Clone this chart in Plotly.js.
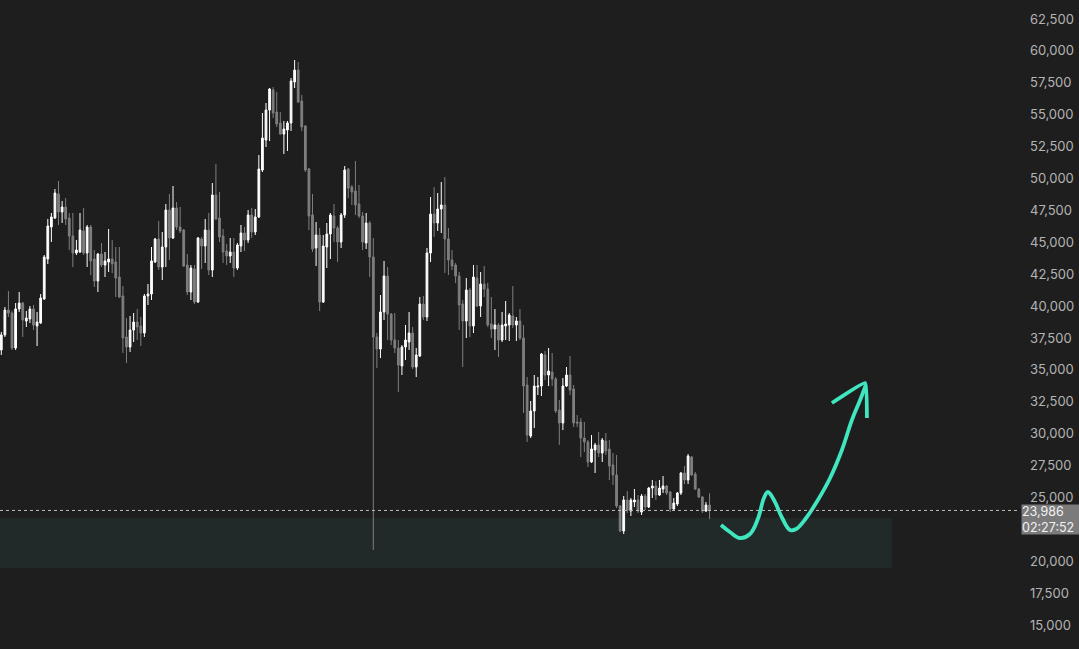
<!DOCTYPE html>
<html>
<head>
<meta charset="utf-8">
<script src="https://cdn.plot.ly/plotly-3.0.1.min.js"></script>
<style>
html,body{margin:0;padding:0;background:#1e1e1e;overflow:hidden;}
#chart{width:1079px;height:649px;}
</style>
</head>
<body>
<div id="chart"></div>
<script>
// Candle OHLC values (one per period, oldest first)
const opens = [
36560,37740,39690,39460,36720,39770,40240,38830,38990,39770,38440,38680,40560,43690,46200,46900,48785,47370,47766,46900,
45494,44160,44240,45886,44161,46199,43691,41967,44083,43221,43457,43691,43457,42280,40792,37578,36795,38127,38754,38440,
37892,40792,40948,43457,45259,43064,44632,47531,45337,47688,46199,45964,43221,41105,42907,40321,45259,44710,45964,42829,
48707,46905,45494,44318,43926,44240,42986,44710,45729,45180,47139,45807,46983,50666,53017,55368,56936,55211,54350,53488,
53801,54350,57563,58503,56073,54114,50744,47139,44553,45572,40321,44632,45651,47061,46121,45023,47139,50744,49334,49020,
48002,47061,44945,46513,43848,37578,36638,39537,42359,39381,37343,36717,35306,36795,37186,37892,35227,36090,40165,39146,
44161,47218,46513,47609,47923,45259,43613,43221,42359,40165,38832,41262,38440,42202,40008,41732,41340,38597,38205,38519,
37343,38440,38519,39224,38519,38832,37500,33817,29820,31779,33660,33738,36168,34600,34835,34286,31857,30839,33738,34600,
33503,30917,30917,29663,29350,27782,28722,29115,28488,29428,28801,27547,26763,24334,22374,24804,23942,24647,24804,23863,
25117,24255,25744,25901,25195,25666,25901,25431,24098,24490,25352,26920,26371,28174,26842,25666,25039,23942,24412
];
const highs = [
37970,39930,41184,39600,40243,41105,40320,39616,40008,40086,39537,40948,44005,46826,47296,49177,49804,48237,48472,47296,
47296,45180,47296,47688,46356,46356,44397,44161,44945,44240,46042,45180,44632,44632,41575,39068,39224,39459,39773,39146,
40948,41732,44632,45337,46669,45807,48002,48785,49412,48158,47766,46042,44083,43221,43221,45416,45416,46826,47296,49647,
51136,48942,46042,44867,45337,45337,44945,46356,46199,47531,47688,47609,51842,55133,55917,57092,57171,56779,55211,54506,
54506,57876,59287,59130,56544,54193,50823,48785,46591,46121,45572,46513,47296,48002,46277,47296,50980,50823,49490,51371,
49490,47374,47296,46669,45337,37892,40870,43535,43064,39459,39459,37343,36951,38519,39537,38362,36717,40713,40792,44553,
48550,49334,48864,49726,50117,46121,44397,43378,42672,40478,42202,41418,43221,43221,42672,43143,41810,40713,39773,38676,
39537,40400,39459,41575,39146,39773,38519,34443,32563,34600,34443,36325,36482,36717,36325,34443,32641,34365,35227,36090,
33817,31465,31230,30917,29506,29898,29271,30133,29663,30055,29506,28488,28331,24412,25117,25509,24961,25666,25195,25274,
25274,25823,26371,26293,26371,26685,25980,25509,24961,25431,26998,27469,28409,28253,26998,25744,25117,24647,25337
];
const lows = [
36170,37580,39146,36560,36560,39537,37578,38362,38676,38127,36873,38600,40480,43300,45023,46830,46356,46513,46356,44397,
43064,44005,44160,44005,43064,42437,41497,41105,43064,42280,42672,42594,40713,40635,36325,35541,36403,37186,37343,36873,
37578,40086,40478,43378,42829,42045,43064,43613,45259,45964,45729,43064,40870,40478,40160,40243,42907,43378,42437,42280,
46748,45023,43378,43221,43378,42280,42829,44240,44318,44945,45337,45572,46905,50509,52469,52939,54742,54036,53409,51920,
52155,53723,57092,55917,53723,50509,45964,44240,43143,39616,40243,42986,43691,45023,43457,44553,46905,48472,47923,47139,
46905,44397,44475,42280,20885,35149,35933,38911,37343,36951,36325,33268,34600,35776,36560,35070,34443,36011,38911,38832,
43457,45416,45886,45729,42594,42437,42829,41810,38127,35227,37500,37578,37892,39929,39146,40713,38362,37500,36560,36011,
37186,37343,37265,38284,37265,37343,31622,29350,29663,30447,33033,32955,34208,33738,33738,31622,29115,30290,33660,33033,
30525,30525,28174,28566,27390,27704,26920,28174,27782,28331,26371,25980,24177,22296,22139,23785,23550,24255,23785,23628,
24020,24177,24961,24804,25117,25352,25195,23863,23942,24334,25195,26058,26058,26685,25588,24961,23785,23863,23300
];
const closes = [
37740,39690,39460,36717,39773,40240,38911,39068,39770,38519,38754,40635,43848,46277,46983,48864,47374,47766,46826,45494,
44161,44397,45964,44161,46199,43535,41967,44083,43221,43535,43691,43300,42202,40713,37500,36795,38127,38754,38362,37892,
40792,40948,43535,45259,43064,44632,47531,45337,47688,46199,45886,43143,41105,42986,40321,45337,44710,45964,42829,48707,
46826,45416,44240,43926,44240,42986,44789,45729,45180,47139,45807,46983,50744,53174,55368,57014,55133,54271,53488,53879,
54350,57641,58503,55995,54036,50666,47061,44475,45572,40321,44710,45651,47139,46121,45023,47139,50666,49255,48942,47923,
47061,45023,46513,43848,37578,36638,39537,42359,39381,37343,36717,35384,36795,37343,37892,35227,36168,40165,39146,44161,
47218,46513,47609,47923,45259,43613,43143,42359,40086,38832,41262,38440,42280,40008,41732,41340,38519,38205,38519,37343,
38519,38597,39303,38519,38832,37500,33738,29898,31779,33738,33738,36246,34600,34914,34286,31779,30839,33738,34600,33425,
30839,30839,29663,29350,27782,28801,29115,28488,29506,28644,27469,26763,24334,22374,24804,24020,24804,24804,23942,25117,
24255,25744,25901,25195,25744,25901,25352,24098,24569,25352,26920,26371,28253,26763,25666,25039,23942,24412,23986
];
const periods = opens.map((_, i) => i);

// Support zone, last price, hand-drawn projection
const zoneLow = 19470, zoneHigh = 23390, zoneEnd = 249;
const lastPrice = 23986;
const lastPriceLabel = "23,986";
const countdownLabel = "02:27:52";
const arrowX = [201.2,203.7,206.5,209.3,211.6,213.2,214.3,216.0,218.3,220.5,222.2,225.0,228.3,231.7,235.0,237.8,240.1,241.7];
const arrowY = [22845,22296,21826,22139,23393,24961,25431,24804,23393,22453,22531,23393,24804,26528,28722,31074,32641,33817];
const headX = [232.2,241.5,242.0];
const headY = [32406,33973,31230];
// 22,500 sits under the last-price tag in the reference, so it is not drawn
const yTicks = [15000,17500,20000,25000,27500,30000,32500,35000,37500,40000,42500,45000,47500,50000,52500,55000,57500,60000,62500];

const traces = [
  {
    type: 'candlestick',
    x: periods, open: opens, high: highs, low: lows, close: closes,
    increasing: {line: {color: '#ffffff', width: 1}, fillcolor: '#ffffff'},
    decreasing: {line: {color: '#7f7f7f', width: 1}, fillcolor: '#7f7f7f'},
    whiskerwidth: 0,
    hoverinfo: 'skip',
    showlegend: false
  },
  {
    type: 'scatter', mode: 'lines', x: arrowX, y: arrowY,
    line: {color: '#3fe6bf', width: 3.8, shape: 'spline', smoothing: 1.1},
    hoverinfo: 'skip', showlegend: false
  },
  {
    type: 'scatter', mode: 'lines', x: headX, y: headY,
    line: {color: '#3fe6bf', width: 3.8, shape: 'spline', smoothing: 0.3},
    hoverinfo: 'skip', showlegend: false
  }
];

const layout = {
  width: 1079, height: 649,
  margin: {l: 0, r: 59, t: 0, b: 0, pad: 0},
  paper_bgcolor: '#1e1e1e',
  plot_bgcolor: '#1e1e1e',
  showlegend: false,
  boxgap: 0.3,
  xaxis: {
    range: [-0.363, 284.79], visible: false, showgrid: false, zeroline: false,
    rangeslider: {visible: false}, fixedrange: true
  },
  yaxis: {
    range: [13127, 63989], side: 'right', showgrid: false, zeroline: false,
    tickvals: yTicks, tickformat: ',d', ticks: '', showline: false,
    ticklabelstandoff: 9,
    tickfont: {family: 'Inter, Roboto, sans-serif', size: 13, color: '#b4b4b4'},
    fixedrange: true
  },
  shapes: [
    {type: 'rect', xref: 'x', yref: 'y', x0: -2, x1: zoneEnd, y0: zoneLow, y1: zoneHigh,
     fillcolor: '#212a28', line: {width: 0}, layer: 'below'},
    {type: 'line', xref: 'paper', yref: 'y', x0: 0, x1: 1, y0: lastPrice, y1: lastPrice,
     line: {color: '#bdbdbd', width: 1, dash: 'dot'}, layer: 'above'}
  ],
  annotations: [
    {xref: 'paper', yref: 'y', x: 1, y: lastPrice, xanchor: 'left', yanchor: 'middle',
     xshift: 1, yshift: -9, width: 62, height: 29, align: 'left', valign: 'middle',
     text: lastPriceLabel + '<br>' + countdownLabel, showarrow: false,
     bgcolor: '#7b7b7b', borderpad: 0,
     font: {family: 'Inter, Roboto, sans-serif', size: 12.5, color: '#f2f2f2'}}
  ]
};

Plotly.newPlot('chart', traces, layout, {displayModeBar: false, staticPlot: true});
</script>
</body>
</html>
